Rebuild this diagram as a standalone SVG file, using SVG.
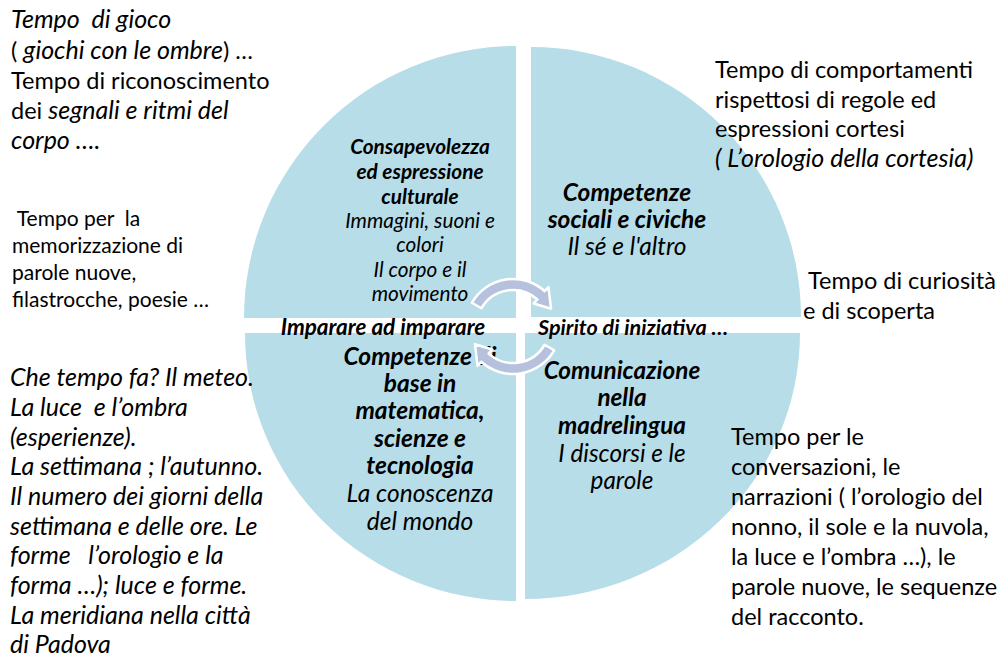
<svg xmlns="http://www.w3.org/2000/svg" width="999" height="658" viewBox="0 0 999 658">
<style>
text{font-family:Lato,"Liberation Sans",sans-serif;fill:#000;white-space:pre}
.i{font-style:italic}
.bi{font-style:italic;font-weight:bold}
.ann{font-size:23.5px}
.ann .i,.ann.i{font-size:25px}
.ann2{font-size:21px}
.lab{text-anchor:middle}
.q{fill:#b7dde8}
.arr{fill:#b6c1de;stroke:#fff;stroke-width:2.5;stroke-linejoin:round}
</style>
<rect width="999" height="658" fill="#fff"/>

<g id="q-tl">
<path class="q" d="M516,318 L244,318 A272,272 0 0 1 516,46 Z"/>
<text class="lab" font-size="20.8"><tspan class="bi" x="420" y="154">Consapevolezza</tspan><tspan class="bi" x="420" y="179">ed espressione</tspan><tspan class="bi" x="420" y="204">culturale</tspan><tspan class="i" x="420" y="228">Immagini, suoni e</tspan><tspan class="i" x="420" y="252">colori</tspan><tspan class="i" x="420" y="277">Il corpo e il</tspan><tspan class="i" x="420" y="301">movimento</tspan></text>
</g>

<g id="q-tr">
<path class="q" d="M531,317 L531,47 A270,270 0 0 1 801,317 Z"/>
<text class="lab" font-size="24.5"><tspan class="bi" x="627" y="201">Competenze</tspan><tspan class="bi" x="627" y="228">sociali e civiche</tspan><tspan class="i" x="627" y="255">Il sé e l'altro</tspan></text>
</g>

<g id="q-bl">
<path class="q" d="M516,333 L245,333 A271,268 0 0 0 516,601 Z"/>
<text class="lab" font-size="24.5"><tspan class="bi" x="420" y="365">Competenze di</tspan><tspan class="bi" x="420" y="392">base in</tspan><tspan class="bi" x="420" y="419">matematica,</tspan><tspan class="bi" x="420" y="447">scienze e</tspan><tspan class="bi" x="420" y="474">tecnologia</tspan><tspan class="i" x="420" y="502">La conoscenza</tspan><tspan class="i" x="420" y="530">del mondo</tspan></text>
</g>

<g id="q-br">
<path class="q" d="M525,333 L800,333 A275,266 0 0 1 525,599 Z"/>
<text class="lab" font-size="24.3"><tspan class="bi" x="622" y="379">Comunicazione</tspan><tspan class="bi" x="622" y="406">nella</tspan><tspan class="bi" x="622" y="434">madrelingua</tspan><tspan class="i" x="622" y="462">I discorsi e le</tspan><tspan class="i" x="622" y="489">parole</tspan></text>
</g>

<g id="band-left"><text class="bi lab" font-size="22.5" x="383" y="335">Imparare ad imparare</text></g>
<g id="band-right"><text class="bi" font-size="21.6" x="538" y="335">Spirito di iniziativa …</text></g>

<g id="note-gioco">
<text class="ann"><tspan class="i" x="11" y="28">Tempo  di gioco</tspan><tspan x="11" y="59">( <tspan class="i">giochi con le ombre</tspan>) …</tspan><tspan x="11" y="89">Tempo di riconoscimento</tspan><tspan x="11" y="119">dei <tspan class="i">segnali e ritmi del</tspan></tspan><tspan class="i" x="11" y="149">corpo ….</tspan></text>
</g>

<g id="note-memoria">
<text class="ann2"><tspan x="12" y="226"> Tempo per  la</tspan><tspan x="12" y="253">memorizzazione di</tspan><tspan x="12" y="280">parole nuove,</tspan><tspan x="12" y="307">filastrocche, poesie …</tspan></text>
</g>

<g id="note-meteo">
<text class="ann i"><tspan x="10" y="386">Che tempo fa? Il meteo.</tspan><tspan x="10" y="416">La luce  e l’ombra</tspan><tspan x="10" y="446">(esperienze).</tspan><tspan x="10" y="475">La settimana ; l’autunno.</tspan><tspan x="10" y="505">Il numero dei giorni della</tspan><tspan x="10" y="535">settimana e delle ore. Le</tspan><tspan x="10" y="564">forme   l’orologio e la</tspan><tspan x="10" y="594">forma …); luce e forme.</tspan><tspan x="10" y="624">La meridiana nella città</tspan><tspan x="10" y="653">di Padova</tspan></text>
</g>

<g id="note-cortesia">
<text class="ann"><tspan x="715" y="78">Tempo di comportamenti</tspan><tspan x="715" y="108">rispettosi di regole ed</tspan><tspan x="715" y="137">espressioni cortesi</tspan><tspan class="i" x="715" y="167">( L’orologio della cortesia)</tspan></text>
</g>

<g id="note-curiosita">
<text class="ann"><tspan x="808" y="289">Tempo di curiosità</tspan><tspan x="803" y="319">e di scoperta</tspan></text>
</g>

<g id="note-conversazioni">
<text class="ann"><tspan x="731" y="445">Tempo per le</tspan><tspan x="731" y="475">conversazioni, le</tspan><tspan x="731" y="505">narrazioni ( l’orologio del</tspan><tspan x="731" y="535">nonno, il sole e la nuvola,</tspan><tspan x="731" y="565">la luce e l’ombra …), le</tspan><tspan x="731" y="595">parole nuove, le sequenze</tspan><tspan x="731" y="625">del racconto.</tspan></text>
</g>

<g id="connectors">
<path id="cyc-top" class="arr" d="M471.86,302.75 A47.5,47.5 0 0 1 544.78,291.2 L548.46,287.12 L551.06,308.75 L533.74,303.46 L537.42,299.38 A36.5,36.5 0 0 0 481.39,308.25 Z"/>
<use href="#cyc-top" transform="rotate(180 513 326.5)"/>
</g>
</svg>
